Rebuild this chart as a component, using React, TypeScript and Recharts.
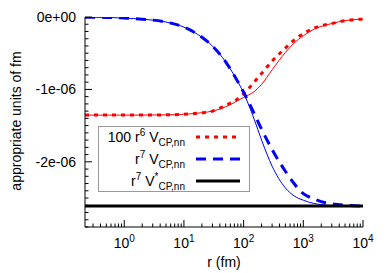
import React from "react";
import { LineChart, Line, XAxis, YAxis } from "recharts";

// radius grid (fm) and curves, in units of 1e-6
const rGrid = [0.22, 0.5, 1, 2, 5, 10, 20, 30, 50, 70, 100, 150, 200, 300, 500, 700, 1000, 1500, 2000, 3000, 5000, 10000];
const redDashed = [-1.355, -1.355, -1.355, -1.354, -1.351, -1.343, -1.322, -1.3, -1.22, -1.16, -1.06, -0.9, -0.78, -0.61, -0.43, -0.32, -0.23, -0.155, -0.12, -0.09, -0.05, -0.03];
const redSolid = [-1.355, -1.355, -1.355, -1.354, -1.351, -1.343, -1.322, -1.3, -1.24, -1.18, -1.11, -1.03, -0.93, -0.73, -0.49, -0.36, -0.26, -0.17, -0.13, -0.09, -0.05, -0.03];
const blueDashed = [-0.002, -0.006, -0.015, -0.03, -0.07, -0.14, -0.28, -0.4, -0.62, -0.81, -1.04, -1.33, -1.55, -1.83, -2.13, -2.3, -2.44, -2.51, -2.55, -2.58, -2.6, -2.61];
const blueSolid = [-0.002, -0.006, -0.015, -0.03, -0.07, -0.14, -0.28, -0.4, -0.62, -0.81, -1.05, -1.41, -1.7, -2.06, -2.36, -2.47, -2.53, -2.575, -2.59, -2.605, -2.61, -2.61];
const blackR = [0.22, 10000];
const black = [-2.61, -2.61];

const xMajor = [1, 10, 100, 1000, 10000];
const xMinor = [0.3, 0.4, 0.5, 0.6, 0.7, 0.8, 0.9, 2, 3, 4, 5, 6, 7, 8, 9, 20, 30, 40, 50, 60, 70, 80, 90, 200, 300, 400, 500, 600, 700, 800, 900, 2000, 3000, 4000, 5000, 6000, 7000, 8000, 9000];
const yTicks = Array.from({ length: 30 }, (_, i) => -i / 10);

const toRows = (rs: number[], vs: number[]) => rs.map((r, i) => ({ r, v: vs[i] }));

const FONT = "'Liberation Sans', Arial, sans-serif";
const xTicks = [...xMajor, ...xMinor].sort((a, b) => a - b);
const isMajorX = (v: number) => Math.abs(Math.log10(v) - Math.round(Math.log10(v))) < 1e-9;
const isMajorY = (v: number) => Math.abs(v - Math.round(v)) < 1e-9;
const fmtY = (v: number) => (Math.round(v) === 0 ? "0e+00" : `${Math.round(v)}e-06`);

const BottomTick = ({ x, y, payload }: any) => {
  const major = isMajorX(payload.value);
  return (
    <g>
      <line x1={x} x2={x} y1={y} y2={y - (major ? 7 : 3.5)} stroke="#000" />
      {major && (
        <text x={x} y={y + 21} textAnchor="middle" fontSize={14} fontFamily={FONT} fill="#000">
          <tspan>10</tspan>
          <tspan dy={-6} fontSize={10}>{Math.round(Math.log10(payload.value))}</tspan>
        </text>
      )}
    </g>
  );
};

const TopTick = ({ x, y, payload }: any) => {
  const major = isMajorX(payload.value);
  return <line x1={x} x2={x} y1={y} y2={y + (major ? 7 : 3.5)} stroke="#000" />;
};

const LeftTick = ({ x, y, payload }: any) => {
  const major = isMajorY(payload.value);
  return (
    <g>
      <line x1={x} x2={x + (major ? 7 : 3.5)} y1={y} y2={y} stroke="#000" />
      {major && (
        <text x={x - 9} y={y + 5} textAnchor="end" fontSize={14} fontFamily={FONT} fill="#000">
          {fmtY(payload.value)}
        </text>
      )}
    </g>
  );
};

const RightTick = ({ x, y, payload }: any) => {
  const major = isMajorY(payload.value);
  return <line x1={x} x2={x - (major ? 7 : 3.5)} y1={y} y2={y} stroke="#000" />;
};

const LegendBox = () => {
  const rows = [
    { pre: "100 r", sup: "6", star: false, color: "#ff0000", dash: "4 5" },
    { pre: "r", sup: "7", star: false, color: "#0000ff", dash: "10 7" },
    { pre: "r", sup: "7", star: true, color: "#000000", dash: undefined },
  ];
  return (
    <svg width={390} height={273} style={{ position: "absolute", left: 0, top: 0, pointerEvents: "none" }}>
      <rect x={98.5} y={126.5} width={151} height={65} fill="none" stroke="#999" />
      {rows.map((row, i) => {
        const y = 137 + i * 22;
        return (
          <g key={i}>
            <text x={185} y={y + 5} textAnchor="end" fontSize={14} fontFamily={FONT} fill="#000" style={{ whiteSpace: "pre" }}>
              <tspan>{row.pre}</tspan>
              <tspan dy={-6} fontSize={10}>{row.sup}</tspan>
              <tspan dy={6}>{" V"}</tspan>
              {row.star && <tspan dy={-6} fontSize={10}>*</tspan>}
              <tspan dy={row.star ? 10 : 4} fontSize={10}>CP,nn</tspan>
            </text>
            <line x1={196} x2={240} y1={y} y2={y} stroke={row.color} strokeWidth={3} strokeDasharray={row.dash} />
          </g>
        );
      })}
    </svg>
  );
};

export default function App() {
  return (
    <div style={{ position: "relative", width: 390, height: 273, background: "#fff" }}>
      <style>{`body{margin:0}`}</style>
      <LineChart width={390} height={273} margin={{ top: 17, right: 27, bottom: 0, left: 0 }}>
        <XAxis
          dataKey="r"
          type="number"
          scale="log"
          domain={[0.22, 10000]}
          allowDataOverflow
          ticks={xTicks}
          interval={0}
          tickSize={0}
          tickMargin={0}
          tickLine={false}
          tick={<BottomTick />}
          height={46}
          axisLine={{ stroke: "#000" }}
          label={() => (
            <text x={224} y={267} textAnchor="middle" fontSize={14} fontFamily={FONT} fill="#000">
              r (fm)
            </text>
          )}
        />
        <XAxis
          xAxisId="top"
          orientation="top"
          dataKey="r"
          type="number"
          scale="log"
          domain={[0.22, 10000]}
          allowDataOverflow
          ticks={xTicks}
          interval={0}
          tickSize={0}
          tickMargin={0}
          tickLine={false}
          tick={<TopTick />}
          height={0}
          axisLine={{ stroke: "#000" }}
        />
        <YAxis
          type="number"
          domain={[-2.9, 0]}
          allowDataOverflow
          ticks={yTicks}
          interval={0}
          tickSize={0}
          tickMargin={0}
          tickLine={false}
          tick={<LeftTick />}
          width={85}
          axisLine={{ stroke: "#000" }}
          label={() => (
            <text
              x={21}
              y={121}
              transform="rotate(-90, 21, 121)"
              textAnchor="middle"
              fontSize={14}
              fontFamily={FONT}
              fill="#000"
            >
              appropriate units of fm
            </text>
          )}
        />
        <YAxis
          yAxisId="right"
          orientation="right"
          type="number"
          domain={[-2.9, 0]}
          allowDataOverflow
          ticks={yTicks}
          interval={0}
          tickSize={0}
          tickMargin={0}
          tickLine={false}
          tick={<RightTick />}
          width={0}
          axisLine={{ stroke: "#000" }}
        />
        <Line data={toRows(rGrid, redSolid)} dataKey="v" type="monotone" stroke="#ff0000" strokeWidth={1} dot={false} activeDot={false} isAnimationActive={false} />
        <Line data={toRows(rGrid, redDashed)} dataKey="v" type="monotone" stroke="#ff0000" strokeWidth={3} strokeDasharray="4 5" dot={false} activeDot={false} isAnimationActive={false} />
        <Line data={toRows(rGrid, blueSolid)} dataKey="v" type="monotone" stroke="#0000ff" strokeWidth={1} dot={false} activeDot={false} isAnimationActive={false} />
        <Line data={toRows(rGrid, blueDashed)} dataKey="v" type="monotone" stroke="#0000ff" strokeWidth={3} strokeDasharray="10 7" dot={false} activeDot={false} isAnimationActive={false} />
        <Line data={toRows(blackR, black)} dataKey="v" type="linear" stroke="#000" strokeWidth={3} dot={false} activeDot={false} isAnimationActive={false} />
      </LineChart>
      <LegendBox />
    </div>
  );
}
